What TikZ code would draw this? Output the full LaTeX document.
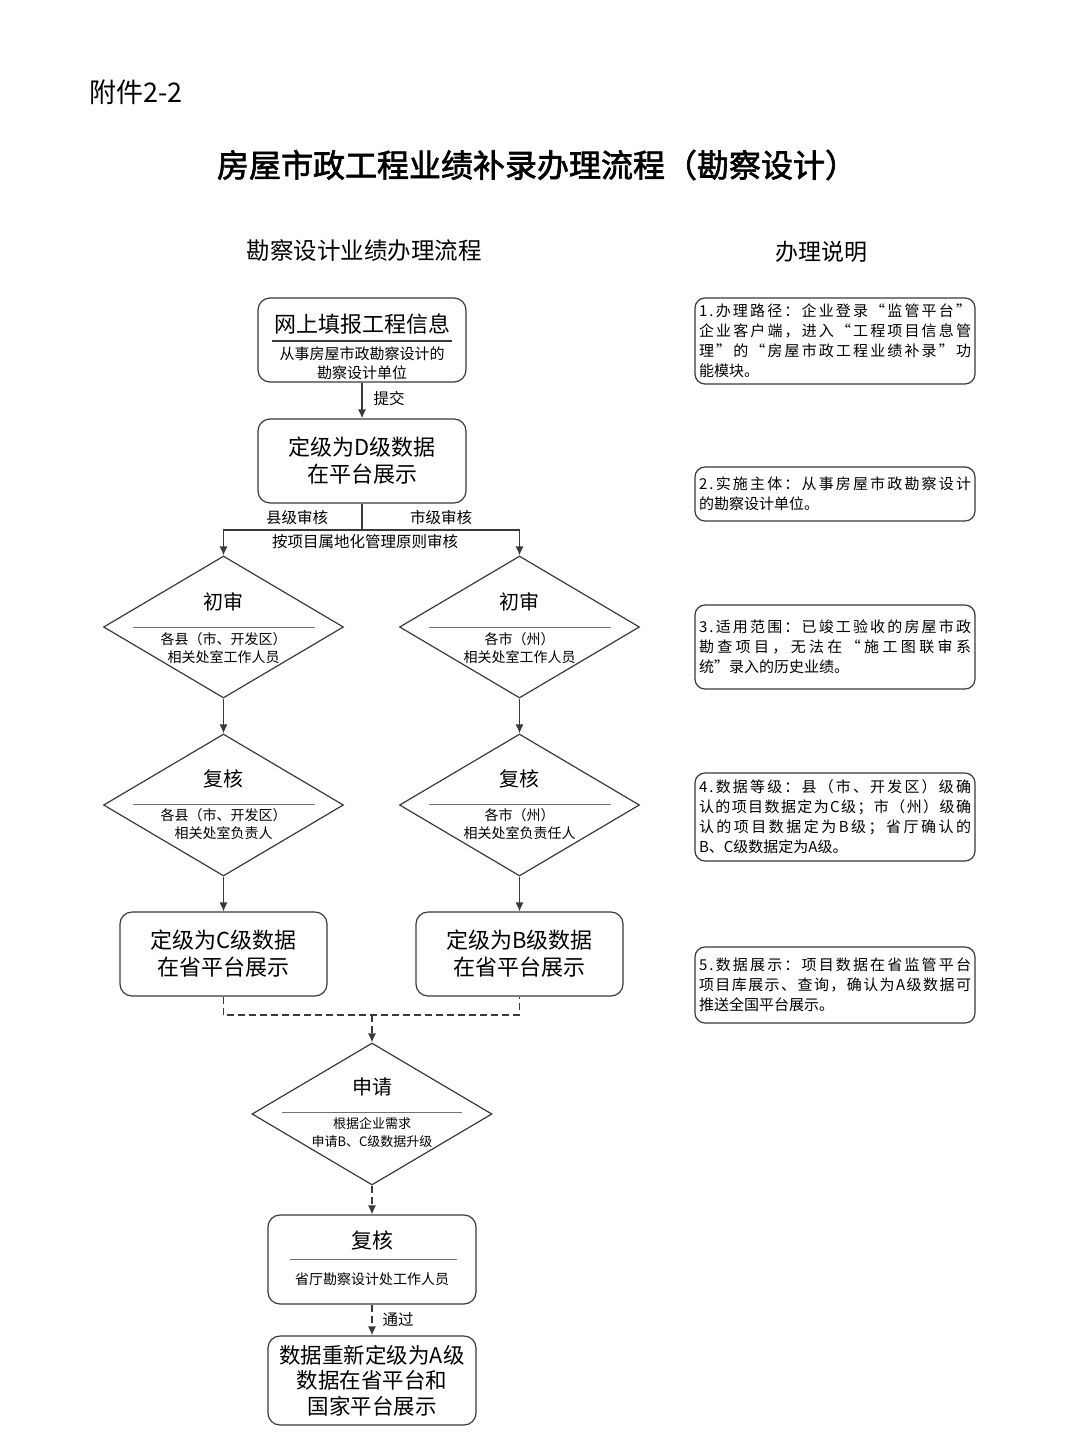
\documentclass[tikz,border=0pt]{standalone}
\usepackage{fontspec}
\setmainfont{Noto Sans CJK SC}[AutoFakeBold=2]
\usepackage{xcolor}
\usetikzlibrary{arrows.meta,positioning,shapes.geometric}
\definecolor{linegray}{HTML}{3A3A3A}
\definecolor{sepgray}{HTML}{707070}
\newcommand\bigfont{\fontsize{22}{27}\selectfont}
\newcommand\headfont{\fontsize{20}{24}\selectfont}
\newcommand\subfont{\fontsize{14}{18}\selectfont}
\newcommand\lblfont{\fontsize{15.5}{19}\selectfont}
\newcommand\notefont{\fontsize{15}{20}\selectfont}
\def\spreadchars#1{\ifx\relax#1\else#1\hfil\expandafter\spreadchars\fi}
\newcommand\noteline[1]{\makebox[272pt][s]{\spreadchars#1\relax\unskip}}
\tikzset{flowbox/.style={draw=linegray,line width=1.2pt,rounded corners=12pt,minimum width=208pt,minimum height=84pt,inner sep=0pt},
  decision/.style={draw=linegray,line width=1.2pt,diamond,minimum width=240pt,minimum height=142pt,inner sep=0pt},
  notebox/.style={draw=linegray,line width=1.2pt,rounded corners=10pt,minimum width=280pt,text width=272pt,inner sep=4pt,align=left,font=\notefont},
  sepline/.style={draw=sepgray,line width=1pt},
  flowline/.style={draw=linegray,line width=1.2pt},
  flowarrow/.style={flowline,->},
  dashline/.style={dash pattern=on 7pt off 4pt}}

\begin{document}
\begin{tikzpicture}[x=1pt,y=-1pt,>={Latex[length=9pt,width=8pt]}]
    \fill[white] (0,0) rectangle (1080,1454);
    \useasboundingbox (0,0) rectangle (1080,1454);

    % headings
    \node[anchor=west,inner sep=0pt,font=\fontsize{27}{30}\selectfont] (annex) at (89,92) {附件2-2};
    \node[inner sep=0pt,font=\fontsize{32}{36}\selectfont\bfseries] (title) at (537,165) {房屋市政工程业绩补录办理流程（勘察设计）};
    \node[inner sep=0pt,font=\fontsize{23.5}{28}\selectfont] (flowhead) at (364,251) {勘察设计业绩办理流程};
    \node[inner sep=0pt,font=\fontsize{23}{28}\selectfont] (notehead) at (821,252) {办理说明};

    % fill in and grade D
    \node[flowbox] (fillin) at (362,340) {};
    \node[font=\bigfont] (fillinT) at (362,324) {网上填报工程信息};
    \draw[flowline] (272,341) -- (452,341);
    \node[font=\fontsize{15}{19.5}\selectfont,align=center] (fillinS) at (362,363.5) {从事房屋市政勘察设计的\\勘察设计单位};
    \node[flowbox,font=\bigfont,align=center] (gradeD) at (362,461) {定级为D级数据\\在平台展示};
    \draw[flowarrow] (fillin) -- (gradeD);
    \node[font=\lblfont,inner sep=0pt] (submit) at (389,399) {提交};

    \coordinate (split) at (362,530);
    \draw[flowline] (gradeD) -- (split);
    \node[font=\lblfont,inner sep=0pt] (county) at (297,518) {县级审核};
    \node[font=\lblfont,inner sep=0pt] (city) at (441,518) {市级审核};
    \node[font=\lblfont,inner sep=0pt] (rule) at (365,542) {按项目属地化管理原则审核};

    % county / city columns
    \foreach \col/\xc/\area/\head/\grade in {L/223.5/各县（市、开发区）/相关处室负责人/C,R/519.5/各市（州）/相关处室负责任人/B} {
      \node[decision] (chu\col) at (\xc,627) {};
      \node[font=\headfont] (chuT\col) at (\xc,602) {初审};
      \draw[sepline] (\xc-91,627) -- (\xc+91,627);
      \node[font=\subfont,align=center] (chuS\col) at (\xc,648) {\area\\相关处室工作人员};
      \node[decision] (fu\col) at (\xc,805) {};
      \node[font=\headfont] (fuT\col) at (\xc,779) {复核};
      \draw[sepline] (\xc-91,804) -- (\xc+91,804);
      \node[font=\subfont,align=center] (fuS\col) at (\xc,824) {\area\\\head};
      \node[flowbox,minimum width=207pt,font=\bigfont,align=center] (grade\col) at (\xc,954) {定级为\grade 级数据\\在省平台展示};
      \draw[flowarrow] (split) -| (chu\col);
      \draw[flowarrow] (chu\col) -- (fu\col);
      \draw[flowarrow] (fu\col) -- (grade\col);
    }

    % upgrade to A
    \coordinate (merge) at (372,1015);
    \draw[flowline,dashline] (gradeL) |- (merge) -| (gradeR);
    \node[decision] (apply) at (372,1114) {};
    \node[font=\headfont] (applyT) at (372,1087) {申请};
    \draw[sepline] (282,1112) -- (462,1112);
    \node[font=\fontsize{13}{18}\selectfont,align=center] (applyS) at (372,1133) {根据企业需求\\申请B、C级数据升级};
    \draw[flowarrow,dashline] (merge) -- (apply);

    \node[flowbox,minimum height=89pt] (recheck) at (372,1259.5) {};
    \node[font=\fontsize{21}{24}\selectfont] (recheckT) at (372,1240) {复核};
    \draw[sepline] (290,1259) -- (457,1259);
    \node[font=\subfont] (recheckS) at (372,1279) {省厅勘察设计处工作人员};
    \draw[flowarrow,dashline] (apply) -- (recheck);

    \node[flowbox,minimum height=89pt,font=\fontsize{21.5}{25.5}\selectfont,align=center] (gradeA) at (372,1380.5) {数据重新定级为A级\\数据在省平台和\\国家平台展示};
    \draw[flowarrow,dashline] (recheck) -- (gradeA);
    \node[font=\lblfont,inner sep=0pt] (pass) at (398,1320) {通过};

    % notes
    \node[notebox,minimum height=86pt] (note1) at (835,341) {\noteline{1.办理路径：企业登录“监管平台”}\\\noteline{企业客户端，进入“工程项目信息管}\\\noteline{理”的“房屋市政工程业绩补录”功}\\能模块。};
    \node[notebox,minimum height=54pt] (note2) at (835,494) {\noteline{2.实施主体：从事房屋市政勘察设计}\\的勘察设计单位。};
    \node[notebox,minimum height=84pt] (note3) at (835,647) {\noteline{3.适用范围：已竣工验收的房屋市政}\\\noteline{勘查项目，无法在“施工图联审系}\\统”录入的历史业绩。};
    \node[notebox,minimum height=88pt] (note4) at (835,817) {\noteline{4.数据等级：县（市、开发区）级确}\\\noteline{认的项目数据定为C级；市（州）级确}\\\noteline{认的项目数据定为B级；省厅确认的}\\B、C级数据定为A级。};
    \node[notebox,minimum height=76pt] (note5) at (835,985) {\noteline{5.数据展示：项目数据在省监管平台}\\\noteline{项目库展示、查询，确认为A级数据可}\\推送全国平台展示。};
  \end{tikzpicture}
\end{document}
